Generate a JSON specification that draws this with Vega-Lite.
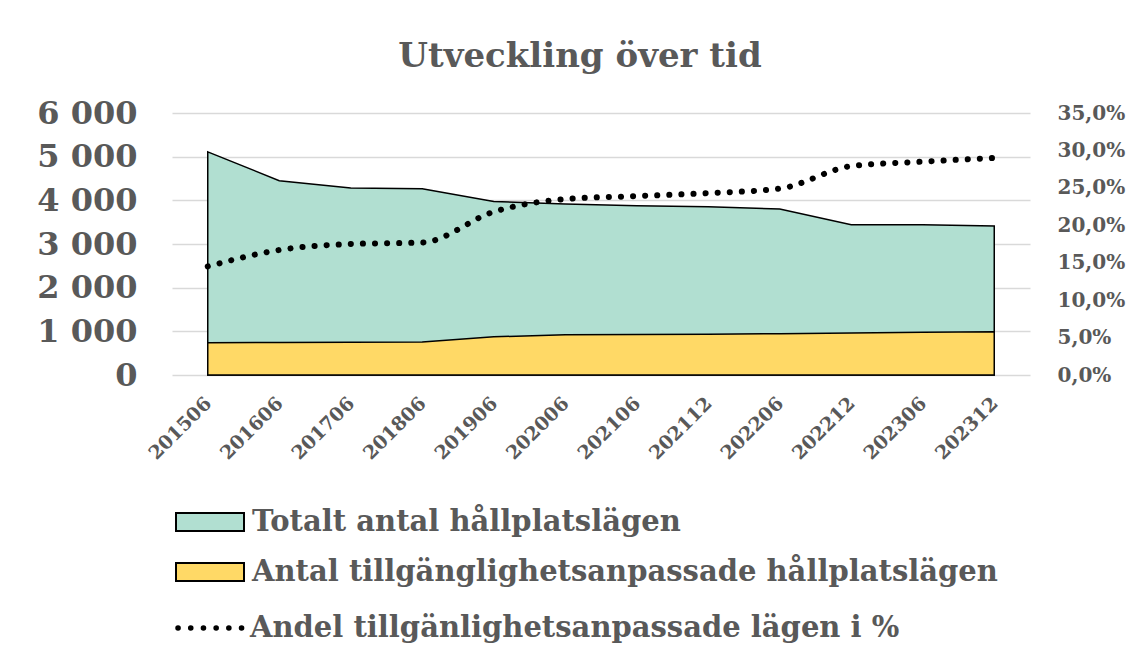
{
  "$schema": "https://vega.github.io/schema/vega-lite/v6.json",
  "width": 858,
  "height": 262,
  "autosize": "none",
  "padding": {"left": 172, "top": 113, "right": 108, "bottom": 280},
  "background": "white",
  "title": {
    "text": "Utveckling över tid",
    "font": "DejaVu Serif",
    "fontSize": 34,
    "fontWeight": "bold",
    "color": "#595959",
    "anchor": "middle",
    "dx": -21,
    "offset": -4,
    "baseline": "alphabetic"
  },
  "data": {
    "values": [
      {"period": "201506", "total": 5110, "access": 740, "pct": 0.145},
      {"period": "201606", "total": 4450, "access": 745, "pct": 0.167},
      {"period": "201706", "total": 4280, "access": 750, "pct": 0.175},
      {"period": "201806", "total": 4265, "access": 755, "pct": 0.177},
      {"period": "201906", "total": 3975, "access": 875, "pct": 0.218},
      {"period": "202006", "total": 3915, "access": 920, "pct": 0.235},
      {"period": "202106", "total": 3875, "access": 925, "pct": 0.239},
      {"period": "202112", "total": 3855, "access": 935, "pct": 0.243},
      {"period": "202206", "total": 3800, "access": 945, "pct": 0.249},
      {"period": "202212", "total": 3440, "access": 960, "pct": 0.279},
      {"period": "202306", "total": 3440, "access": 980, "pct": 0.285},
      {"period": "202312", "total": 3410, "access": 990, "pct": 0.290}
    ]
  },
  "encoding": {
    "x": {
      "field": "period",
      "type": "ordinal",
      "sort": null,
      "scale": {"type": "point", "padding": 0.5},
      "axis": {
        "title": null,
        "labelAngle": -45,
        "labelAlign": "right",
        "labelBaseline": "middle",
        "labelFont": "DejaVu Serif",
        "labelFontSize": 19,
        "labelFontWeight": "bold",
        "labelColor": "#595959",
        "labelPadding": 25,
        "ticks": false,
        "domain": false,
        "grid": false
      }
    }
  },
  "layer": [
    {
      "layer": [
        {
          "mark": {"type": "area", "stroke": "black", "strokeWidth": 1.5, "fillOpacity": 1, "opacity": 1},
          "encoding": {
            "y": {
              "field": "total",
              "type": "quantitative",
              "scale": {"domain": [0, 6000]},
              "axis": {
                "title": null,
                "values": [0, 1000, 2000, 3000, 4000, 5000, 6000],
                "format": ",d",
                "grid": true,
                "gridColor": "#d9d9d9",
                "gridWidth": 1.5,
                "domain": false,
                "ticks": false,
                "labelFont": "DejaVu Serif",
                "labelFontSize": 32,
                "labelFontWeight": "bold",
                "labelColor": "#595959",
                "labelPadding": 35
              }
            },
            "fill": {
              "datum": "Totalt antal hållplatslägen",
              "type": "nominal",
              "scale": {
                "domain": ["Totalt antal hållplatslägen", "Antal tillgänglighetsanpassade hållplatslägen"],
                "range": ["#b1dfd1", "#ffd966"]
              },
              "legend": {
                "orient": "none",
                "legendX": 20,
                "legendY": 391,
                "title": null,
                "padding": 0,
                "symbolType": "M-2,-0.53L2,-0.53L2,0.53L-2,0.53Z",
                "symbolSize": 1156,
                "symbolStrokeColor": "black",
                "symbolStrokeWidth": 2,
                "symbolOpacity": 1,
                "labelFont": "DejaVu Serif",
                "labelFontSize": 29,
                "labelFontWeight": "bold",
                "labelColor": "#595959",
                "labelLimit": 1000,
                "labelOffset": 24,
                "rowPadding": 17
              }
            }
          }
        },
        {
          "mark": {"type": "area", "stroke": "black", "strokeWidth": 1.5, "fillOpacity": 1, "opacity": 1},
          "encoding": {
            "y": {
              "field": "access",
              "type": "quantitative",
              "axis": {
                "title": null,
                "values": [0, 1000, 2000, 3000, 4000, 5000, 6000],
                "format": ",d",
                "grid": true,
                "gridColor": "#d9d9d9",
                "gridWidth": 1.5,
                "domain": false,
                "ticks": false,
                "labelFont": "DejaVu Serif",
                "labelFontSize": 32,
                "labelFontWeight": "bold",
                "labelColor": "#595959",
                "labelPadding": 35
              }
            },
            "fill": {"datum": "Antal tillgänglighetsanpassade hållplatslägen", "type": "nominal"}
          }
        }
      ]
    },
    {
      "mark": {"type": "line", "strokeDash": [0.1, 12], "strokeCap": "round", "strokeWidth": 6, "interpolate": "monotone"},
      "encoding": {
        "y": {
          "field": "pct",
          "type": "quantitative",
          "scale": {"domain": [0, 0.35]},
          "axis": {
            "orient": "right",
            "title": null,
            "values": [0, 0.05, 0.1, 0.15, 0.2, 0.25, 0.3, 0.35],
            "format": ".1%",
            "grid": false,
            "domain": false,
            "ticks": false,
            "labelFont": "DejaVu Serif",
            "labelFontSize": 20,
            "labelFontWeight": "bold",
            "labelColor": "#595959",
            "labelPadding": 27
          }
        },
        "stroke": {
          "datum": "Andel tillgänlighetsanpassade lägen i %",
          "type": "nominal",
          "scale": {"range": ["black"]},
          "legend": {
            "orient": "none",
            "legendX": 20,
            "legendY": 495,
            "title": null,
            "padding": 0,
            "symbolType": "M-2,0L2,0",
            "symbolSize": 1156,
            "symbolStrokeWidth": 5.5,
            "symbolDash": [0.1, 12.6],
            "symbolStrokeColor": "black",
            "labelFont": "DejaVu Serif",
            "labelFontSize": 29,
            "labelFontWeight": "bold",
            "labelColor": "#595959",
            "labelLimit": 1000,
            "labelOffset": 18,
            "encode": {"symbols": {"update": {"strokeCap": {"value": "round"}}}}
          }
        }
      }
    }
  ],
  "resolve": {"scale": {"y": "independent"}},
  "config": {
    "locale": {
      "number": {"decimal": ",", "thousands": " ", "grouping": [3], "currency": ["", " kr"]}
    },
    "view": {"stroke": null}
  }
}
